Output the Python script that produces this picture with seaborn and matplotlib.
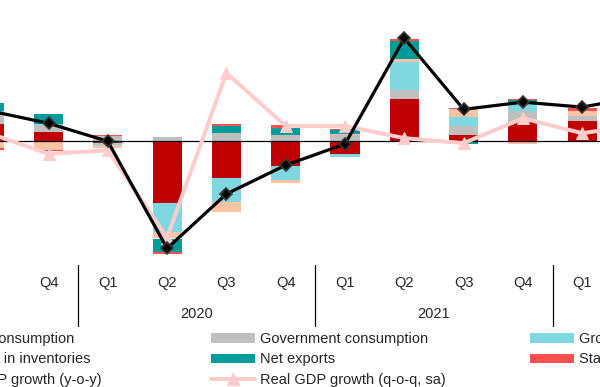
import matplotlib
matplotlib.use("Agg")
import matplotlib.pyplot as plt
import matplotlib.transforms as mtransforms
from matplotlib.patches import Patch
from matplotlib.lines import Line2D
import seaborn as sns
import numpy as np

# quarters shown (Q3 2019 .. Q2 2022), contributions in percentage points
quarters = ["Q3", "Q4", "Q1", "Q2", "Q3", "Q4", "Q1", "Q2", "Q3", "Q4", "Q1", "Q2"]
years = ["2019", "2019", "2020", "2020", "2020", "2020",
         "2021", "2021", "2021", "2021", "2022", "2022"]

private_cons = [1.9, 1.0, -0.15, -6.9, -4.1, -2.7, -1.4, 4.7, 0.75, 2.15, 2.25, 3.0]
gov_cons = [1.0, 0.8, 0.6, 0.5, 0.9, 0.7, 0.7, 1.0, 0.9, 1.2, 0.6, 0.7]
gfcf = [0.45, 0.1, -0.3, -3.2, -2.6, -1.6, -0.3, 3.1, 1.0, 0.85, 0.0, 0.6]
inventories = [-0.8, -0.95, -0.25, -0.7, -1.2, -0.3, 0.1, 0.3, 0.9, -0.35, 0.5, 0.3]
net_exports = [0.9, 1.1, 0.0, -1.55, 0.8, 0.8, 0.5, 2.05, -0.3, 0.35, 0.0, 0.2]
stat_disc = [-0.15, -0.1, 0.1, -0.2, 0.2, 0.3, 0.1, 0.2, 0.2, 0.2, 0.35, 0.2]
gdp_yoy = [3.4, 2.0, 0.0, -11.9, -5.85, -2.65, -0.3, 11.45, 3.55, 4.35, 3.8, 5.0]
gdp_qoq = [0.9, -1.4, -1.0, -10.7, 7.6, 1.7, 1.7, 0.35, -0.2, 2.55, 0.9, 1.85]

series = [
    ("Private consumption", private_cons, "#C00000"),
    ("Government consumption", gov_cons, "#BFBFBF"),
    ("Gross fixed capital formation", gfcf, "#7FD7E1"),
    ("Changes in inventories", inventories, "#F8C4A4"),
    ("Net exports", net_exports, "#009B9B"),
    ("Statistical discrepancy", stat_disc, "#FF5050"),
]
LINE_YOY = "black"
LINE_QOQ = "#FFCCCC"

sns.set_style("white")
plt.rcParams["font.family"] = ["Liberation Sans", "DejaVu Sans"]
FS = 10.5

fig = plt.figure(figsize=(6, 3.87), dpi=100)
ax = fig.add_axes([0, 1 - 258 / 387, 1, 258 / 387])

x = np.arange(len(quarters))
pos_base = np.zeros(len(x))
neg_base = np.zeros(len(x))
for name, vals, col in series:
    v = np.array(vals)
    bottom = np.where(v >= 0, pos_base, neg_base)
    ax.bar(x, v, width=0.49, bottom=bottom, color=col, linewidth=0, zorder=1)
    pos_base += np.where(v >= 0, v, 0)
    neg_base += np.where(v < 0, v, 0)

ax.axhline(0, color="black", lw=0.9, zorder=2)

sns.lineplot(x=x, y=gdp_qoq, ax=ax, color=LINE_QOQ, lw=2.9, marker="^",
             markersize=9, markeredgecolor=LINE_QOQ, zorder=3)
sns.lineplot(x=x, y=gdp_yoy, ax=ax, color=LINE_YOY, lw=2.3, marker="D",
             markersize=6.2, markeredgecolor="#3a3a3a", markeredgewidth=1.2, zorder=4)

ax.set_yticks([])
ax.set_xticks(x)
ax.set_xticklabels(quarters, fontsize=FS)
ax.tick_params(axis="x", length=0, pad=12.7)
ax.set_xlim(10.8 / 59.3, 610.8 / 59.3)
ax.set_ylim((141.3 - 258) / 9, 141.3 / 9)
for s in ax.spines.values():
    s.set_visible(False)

# year labels and separators below the axis
trans = mtransforms.blended_transform_factory(ax.transData, ax.transAxes)
yrs = np.array(years)
for k, yr in enumerate(dict.fromkeys(years)):
    idx = np.where(yrs == yr)[0]
    if len(idx) == 4:
        cx = idx.mean()
    elif k == 0:
        cx = idx.max() - 1.5
    else:
        cx = idx.min() + 1.5
    ax.text(cx, -0.217, yr, transform=trans, ha="center", va="center",
            fontsize=FS, clip_on=False)
for i in range(1, len(years)):
    if years[i] != years[i - 1]:
        ax.plot([i - 0.5, i - 0.5], [-0.0256, -0.2628], transform=trans,
                color="black", lw=0.9, clip_on=False)
ax.set_xlim(10.8 / 59.3, 610.8 / 59.3)

# legend: three fixed-width columns
handles = {name: Patch(facecolor=col, edgecolor="none") for name, _, col in series}
handles["Real GDP growth (y-o-y)"] = Line2D([], [], color=LINE_YOY, lw=2.3, marker="D",
                                            markersize=6.2, markeredgecolor="#3a3a3a")
handles["Real GDP growth (q-o-q, sa)"] = Line2D([], [], color=LINE_QOQ, lw=2.9, marker="^",
                                                markersize=9)
columns = [
    (-108, ["Private consumption", "Changes in inventories", "Real GDP growth (y-o-y)"]),
    (211, ["Government consumption", "Net exports", "Real GDP growth (q-o-q, sa)"]),
    (530, ["Gross fixed capital formation", "Statistical discrepancy"]),
]
for xpx, names in columns:
    leg = fig.legend([handles[n] for n in names], names, loc="upper left",
                     bbox_to_anchor=(xpx / 600, 1 - 332 / 387), frameon=False,
                     fontsize=FS, borderpad=0, borderaxespad=0, handlelength=3.0,
                     handleheight=0.63, handletextpad=0.34, labelspacing=0.44)

fig.savefig("out.png", dpi=100)
